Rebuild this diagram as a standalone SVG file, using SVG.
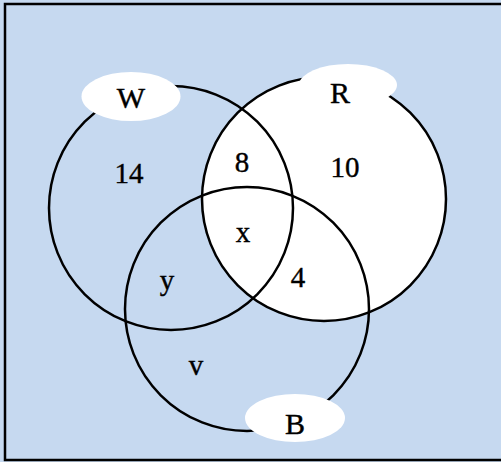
<svg xmlns="http://www.w3.org/2000/svg" width="501" height="462" viewBox="0 0 501 462">
<style>
.c{fill:none;stroke:#000;stroke-width:2.5}
.e{fill:#fff;stroke:none}
.lbl{font-family:"Liberation Serif","Times New Roman",serif;font-size:30px;fill:#000;stroke:#000;stroke-width:0.4;text-anchor:middle}
.num{font-family:"Liberation Serif","Times New Roman",serif;font-size:29px;fill:#000;stroke:#000;stroke-width:0.4;text-anchor:middle}
</style>
<rect x="0" y="0" width="501" height="462" fill="#c6d9f0"/>
<rect x="5" y="4" width="520" height="456" fill="#c6d9f0" stroke="#000" stroke-width="2.5"/>
<g id="connectors">
<circle cx="324" cy="199" r="122" fill="#fff" stroke="#000" stroke-width="2.5"/>
<circle class="c" cx="171" cy="208" r="122"/>
<circle class="c" cx="247" cy="309" r="122"/>
</g>
<g id="W">
<ellipse class="e" cx="131" cy="96.5" rx="49.5" ry="24.5"/>
<text class="lbl" x="131" y="108">W</text>
</g>
<g id="R">
<ellipse class="e" cx="348" cy="85" rx="49" ry="21"/>
<text class="lbl" x="340" y="103">R</text>
</g>
<g id="B">
<ellipse class="e" cx="295" cy="418" rx="50" ry="24"/>
<text class="lbl" x="295" y="434">B</text>
</g>
<g id="counts">
<text class="num" x="129" y="183">14</text>
<text class="num" x="242" y="172">8</text>
<text class="num" x="345" y="177">10</text>
<text class="num" x="243" y="242">x</text>
<text class="num" x="298" y="287">4</text>
<text class="num" x="167" y="290">y</text>
<text class="num" x="196" y="375">v</text>
</g>
</svg>
